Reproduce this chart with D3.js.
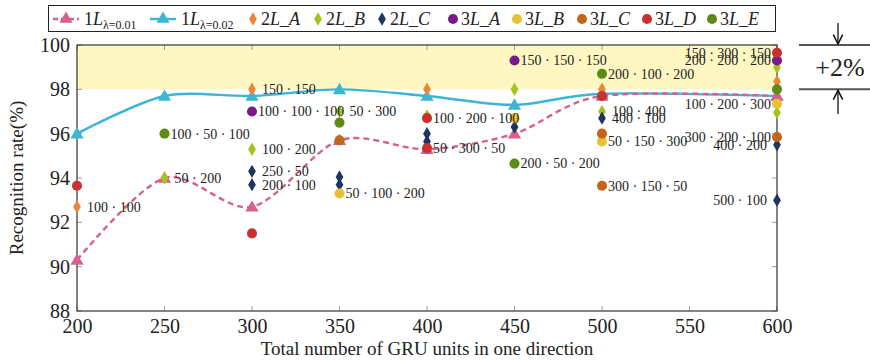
<!DOCTYPE html>
<html>
<head>
<meta charset="utf-8">
<script src="https://cdn.jsdelivr.net/npm/d3@7"></script>
<style>
  body { margin: 0; background: #fff; }
</style>
</head>
<body>
<div id="chart"></div>
<script>
// ---- data ----
const xTicks = [200, 250, 300, 350, 400, 450, 500, 550, 600];
const yTicks = [88, 90, 92, 94, 96, 98, 100];

const lineUnits = [200, 250, 300, 350, 400, 450, 500, 600];
const line001 = [90.3, 94.0, 92.7, 95.7, 95.3, 96.0, 97.7, 97.7];
const line002 = [96.0, 97.7, 97.7, 98.0, 97.7, 97.3, 97.8, 97.7];

// [units, rate, label]
const s2LA = [[200, 92.7, "100 · 100"], [300, 98.0, "150 · 150"], [400, 98.0, ""], [500, 98.0, ""], [600, 98.35, ""]];
const s2LB = [[250, 94.0, "50 · 200"], [300, 95.3, "100 · 200"], [350, 97.0, "50 · 300"], [400, 96.8, ""],
              [450, 98.0, ""], [500, 97.0, "100 · 400"], [600, 99.0, ""], [600, 96.95, ""]];
const s2LC = [[300, 94.3, "250 · 50"], [300, 93.7, "200 · 100"], [350, 94.05, ""], [350, 93.7, ""],
              [400, 96.0, ""], [400, 95.65, ""], [450, 96.3, ""], [500, 96.7, "400 · 100"],
              [600, 95.5, "400 · 200"], [600, 93.0, "500 · 100"]];
const s3LA = [[300, 97.0, "100 · 100 · 100"], [450, 99.3, "150 · 150 · 150"], [600, 99.3, "200 · 200 · 200"]];
const s3LB = [[350, 93.3, "50 · 100 · 200"], [450, 96.7, ""], [500, 95.65, "50 · 150 · 300"], [600, 97.35, "100 · 200 · 300"]];
const s3LC = [[350, 95.7, ""], [500, 96.0, ""], [500, 93.65, "300 · 150 · 50"], [600, 95.85, "300 · 200 · 100"]];
const s3LD = [[200, 93.65, ""], [300, 91.5, ""], [400, 96.7, "100 · 200 · 100"], [400, 95.35, "50 · 300 · 50"],
              [500, 97.7, ""], [600, 99.65, "150 · 300 · 150"]];
const s3LE = [[250, 96.0, "100 · 50 · 100"], [350, 96.5, ""], [450, 94.65, "200 · 50 · 200"],
              [500, 98.7, "200 · 100 · 200"], [600, 98.0, ""]];

// ---- layout ----
const W = 870, H = 363;
const plot = { left: 77, right: 777, top: 45, bottom: 311 };
const serif = "'Liberation Serif', 'Times New Roman', Times, 'DejaVu Serif', serif";

const svg = d3.select("#chart").append("svg")
  .attr("width", W)
  .attr("height", H)
  .attr("font-family", serif);

const x = d3.scaleLinear().domain([200, 600]).range([plot.left, plot.right]);
const y = d3.scaleLinear().domain([88, 100]).range([plot.bottom, plot.top]);

svg.append("clipPath").attr("id", "clip")
  .append("rect")
  .attr("x", plot.left).attr("y", plot.top)
  .attr("width", plot.right - plot.left).attr("height", plot.bottom - plot.top);

// highlighted band 98..100
svg.append("rect")
  .attr("x", plot.left)
  .attr("y", y(100))
  .attr("width", plot.right - plot.left)
  .attr("height", y(98) - y(100))
  .attr("fill", "#fff7c2");

// ticks on all four sides, pointing in
const tickCol = "#9a9a9a";
xTicks.forEach(t => {
  svg.append("line").attr("x1", x(t)).attr("x2", x(t)).attr("y1", plot.bottom).attr("y2", plot.bottom - 5)
    .attr("stroke", tickCol);
  svg.append("line").attr("x1", x(t)).attr("x2", x(t)).attr("y1", plot.top).attr("y2", plot.top + 5)
    .attr("stroke", tickCol);
});
yTicks.forEach(t => {
  svg.append("line").attr("x1", plot.left).attr("x2", plot.left + 5).attr("y1", y(t)).attr("y2", y(t))
    .attr("stroke", tickCol);
  svg.append("line").attr("x1", plot.right).attr("x2", plot.right - 5).attr("y1", y(t)).attr("y2", y(t))
    .attr("stroke", tickCol);
});

// axes (labels only, frame drawn separately)
const xAxis = svg.append("g")
  .attr("transform", "translate(0," + plot.bottom + ")")
  .call(d3.axisBottom(x).tickValues(xTicks).tickSize(0).tickPadding(8))
  .attr("font-family", serif).attr("font-size", 20);
xAxis.select(".domain").remove();
xAxis.selectAll("text").attr("fill", "#222");

const yAxis = svg.append("g")
  .attr("transform", "translate(" + plot.left + ",0)")
  .call(d3.axisLeft(y).tickValues(yTicks).tickSize(0).tickPadding(7))
  .attr("font-family", serif).attr("font-size", 20);
yAxis.select(".domain").remove();
yAxis.selectAll("text").attr("fill", "#222");

// frame
svg.append("rect")
  .attr("x", plot.left).attr("y", plot.top)
  .attr("width", plot.right - plot.left).attr("height", plot.bottom - plot.top)
  .attr("fill", "none").attr("stroke", "#333").attr("stroke-width", 1.2);

// axis titles
svg.append("text")
  .attr("x", (plot.left + plot.right) / 2)
  .attr("y", 355)
  .attr("text-anchor", "middle")
  .attr("font-size", "19px")
  .attr("fill", "#222")
  .text("Total number of GRU units in one direction");

svg.append("text")
  .attr("transform", "translate(23," + (plot.top + plot.bottom) / 2 + ") rotate(-90)")
  .attr("text-anchor", "middle")
  .attr("font-size", "19px")
  .attr("fill", "#222")
  .text("Recognition rate(%)");

// ---- smooth lines ----
const colPink = "#d6608e", colCyan = "#3ab5d3";
const lineGen = vals => d3.line()
  .x((d, i) => x(lineUnits[i]))
  .y(d => y(d))
  .curve(d3.curveCardinal.tension(0.1))(vals);

const linesG = svg.append("g").attr("clip-path", "url(#clip)");
linesG.append("path").attr("d", lineGen(line002))
  .attr("fill", "none").attr("stroke", colCyan).attr("stroke-width", 2.4);
linesG.append("path").attr("d", lineGen(line001))
  .attr("fill", "none").attr("stroke", colPink).attr("stroke-width", 2.4)
  .attr("stroke-dasharray", "6,4");

const tri = d3.symbol().type(d3.symbolTriangle).size(75)();
[[line002, colCyan], [line001, colPink]].forEach(([vals, c]) => {
  svg.append("g").selectAll("path")
    .data(vals)
    .enter()
    .append("path")
    .attr("d", tri)
    .attr("transform", (d, i) => "translate(" + x(lineUnits[i]) + "," + (y(d) + 1) + ")")
    .attr("fill", c);
});

// ---- scatter series ----
const diamond = d3.symbol().type(d3.symbolDiamond).size(52)();
const circle = d3.symbol().type(d3.symbolCircle).size(80)();

const scatter = [
  { name: "A", layers: "2", data: s2LA, color: "#e8873a", shape: "diamond" },
  { name: "B", layers: "2", data: s2LB, color: "#a6c21c", shape: "diamond" },
  { name: "C", layers: "2", data: s2LC, color: "#1d3561", shape: "diamond" },
  { name: "A", layers: "3", data: s3LA, color: "#7a1a8a", shape: "circle" },
  { name: "B", layers: "3", data: s3LB, color: "#e8c232", shape: "circle" },
  { name: "C", layers: "3", data: s3LC, color: "#c4661a", shape: "circle" },
  { name: "D", layers: "3", data: s3LD, color: "#c8312e", shape: "circle" },
  { name: "E", layers: "3", data: s3LE, color: "#5e8a16", shape: "circle" }
];

scatter.forEach(s => {
  svg.append("g").selectAll("path")
    .data(s.data)
    .enter()
    .append("path")
    .attr("d", s.shape === "diamond" ? diamond : circle)
    .attr("transform", d => "translate(" + x(d[0]) + "," + y(d[1]) + ")")
    .attr("fill", s.color);
});

// point labels
scatter.forEach(s => {
  const off = s.shape === "diamond" ? 10 : 6;
  svg.append("g").selectAll("text")
    .data(s.data.filter(d => d[2] !== ""))
    .enter()
    .append("text")
    .attr("x", d => d[0] === 600 ? x(d[0]) - off : x(d[0]) + off)
    .attr("y", d => y(d[1]))
    .attr("dy", "0.35em")
    .attr("text-anchor", d => d[0] === 600 ? "end" : "start")
    .attr("font-size", "14px")
    .attr("fill", "#222")
    .text(d => d[2]);
});

// ---- legend ----
const legend = svg.append("g");
legend.append("rect")
  .attr("x", 48.5).attr("y", 5.5).attr("width", 727).attr("height", 26)
  .attr("fill", "#fff").attr("stroke", "#222").attr("stroke-width", 1);
const ly = 19;
// left edge of each entry's marker
const legX = [53, 150, 248, 313, 377, 448, 512, 577, 642, 707];

function legendText(xPos, main, sub, tail) {
  const t = legend.append("text").attr("x", xPos).attr("y", ly + 6)
    .attr("font-size", "18px").attr("fill", "#222");
  t.append("tspan").text(main);
  t.append("tspan").attr("font-style", "italic").text("L");
  if (sub) {
    t.append("tspan").attr("font-size", "12px").attr("dy", 4).text(sub);
  } else {
    t.append("tspan").text("_");
    t.append("tspan").attr("font-style", "italic").text(tail);
  }
}

[["λ=0.01", colPink, true], ["λ=0.02", colCyan, false]].forEach(([sub, c, dashed], i) => {
  const lx = legX[i];
  legend.append("line")
    .attr("x1", lx).attr("x2", lx + 26).attr("y1", ly).attr("y2", ly)
    .attr("stroke", c).attr("stroke-width", 2.4)
    .attr("stroke-dasharray", dashed ? "5,3" : null);
  legend.append("path").attr("d", tri)
    .attr("transform", "translate(" + (lx + 13) + "," + ly + ")").attr("fill", c);
  legendText(lx + 31, "1", sub);
});

scatter.forEach((s, i) => {
  const lx = legX[i + 2];
  legend.append("path")
    .attr("d", s.shape === "diamond" ? diamond : circle)
    .attr("transform", "translate(" + (lx + 5) + "," + ly + ")")
    .attr("fill", s.color);
  legendText(lx + 13, s.layers, null, s.name);
});

// ---- +2% annotation ----
const ann = svg.append("g");
[100, 98].forEach(v => {
  ann.append("line").attr("x1", 799).attr("x2", 870).attr("y1", y(v)).attr("y2", y(v))
    .attr("stroke", "#555").attr("stroke-width", 2);
});
svg.append("defs").append("marker")
  .attr("id", "arr").attr("viewBox", "0 0 10 10").attr("refX", 9).attr("refY", 5)
  .attr("markerWidth", 9).attr("markerHeight", 9).attr("orient", "auto-start-reverse")
  .append("path").attr("d", "M1,1 L9,5 L1,9").attr("fill", "none").attr("stroke", "#111").attr("stroke-width", 1.3);
ann.append("line").attr("x1", 838).attr("x2", 838).attr("y1", 23).attr("y2", y(100) - 1)
  .attr("stroke", "#111").attr("stroke-width", 1.3).attr("marker-end", "url(#arr)");
ann.append("line").attr("x1", 838).attr("x2", 838).attr("y1", 114).attr("y2", y(98) + 1)
  .attr("stroke", "#111").attr("stroke-width", 1.3).attr("marker-end", "url(#arr)");
ann.append("text")
  .attr("x", 840).attr("y", (y(100) + y(98)) / 2 + 9)
  .attr("text-anchor", "middle")
  .attr("font-size", "26px")
  .attr("fill", "#222")
  .text("+2%");
</script>
</body>
</html>
